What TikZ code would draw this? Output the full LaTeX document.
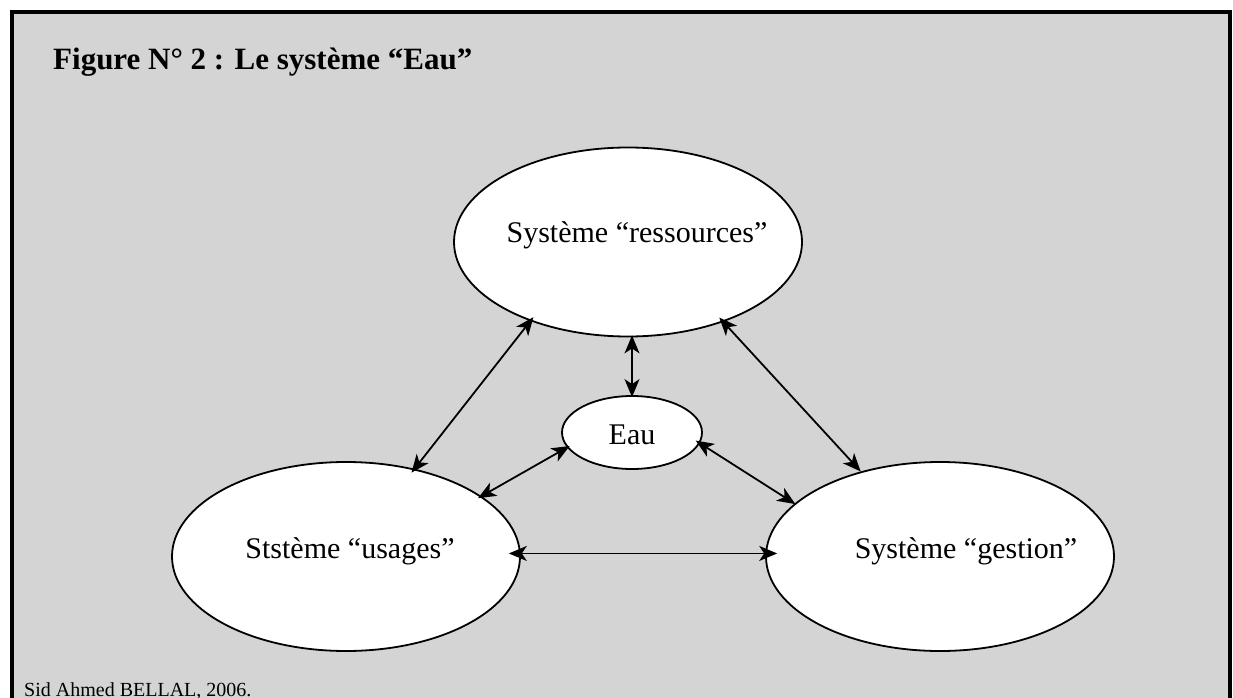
\documentclass[tikz,border=0pt]{standalone}
\usepackage{fontspec}
\setmainfont{Liberation Serif}
\usetikzlibrary{shapes.geometric,arrows.meta,calc}
\definecolor{panelgray}{RGB}{212,212,212}
\begin{document}
\begin{tikzpicture}[x=1pt,y=-1pt,
  sysnode/.style={ellipse, draw, line width=1.8pt, fill=white, inner sep=0pt,
    minimum width=348pt, minimum height=189pt},
  eaunode/.style={ellipse, draw, line width=1.8pt, fill=white, inner sep=0pt,
    minimum width=140pt, minimum height=73pt},
  lbl/.style={anchor=base, inner sep=0pt, font=\fontsize{30}{36}\selectfont},
  tip/.style={Stealth[length=18pt,width=15pt,inset=5pt]},
  link/.style={{Stealth[length=18pt,width=15pt,inset=5pt]}-{Stealth[length=18pt,width=15pt,inset=5pt]}, line width=1.8pt}]
  % page extent
  \useasboundingbox (0,0) rectangle (1233,698);
  \clip (0,0) rectangle (1233,698);
  % framed grey panel
  \draw[line width=4pt, fill=panelgray] (12,12.5) rectangle (1230,740);

  % title and credit
  \node[anchor=base west, inner sep=0pt, font=\bfseries\fontsize{31}{37}\selectfont]
    (title) at (53,70) {Figure N° 2 : Le système “Eau”};
  \node[anchor=base west, inner sep=0pt, font=\fontsize{20}{24}\selectfont]
    (credit) at (24,696) {Sid Ahmed BELLAL, 2006.};

  % the four sub-systems
  \node[sysnode] (res) at (628,242) {};
  \node[sysnode] (use) at (346,556.5) {};
  \node[sysnode] (ges) at (940,556.5) {};
  \node[eaunode] (eau) at (632,432.5) {};

  \node[lbl] (resT) at ($(res.center)+(9,0)$) {Système “ressources”};
  \node[lbl] (useT) at ($(use.center)+(4,1.5)$) {Ststème “usages”};
  \node[lbl] (gesT) at ($(ges.center)+(26,1.5)$) {Système “gestion”};
  \node[lbl] (eauT) at ($(eau.center)+(0,11.5)$) {Eau};

  % two-way links
  \draw[link, shorten <=-5pt, shorten >=-5pt] (res.219) -- (use.52);
  \draw[link, shorten <=-2pt, shorten >=-2pt] (eau.north) -- (eau.north |- res.south);
  \draw[link, shorten <=-6pt, shorten >=0pt] (res.320) -- (ges.133);
  \draw[link, shorten <=-3pt, shorten >=-4pt] (eau.193) -- (use.24);
  \draw[link, shorten <=-5pt, shorten >=-1pt] (eau.351) -- (ges.160);
  \draw[link, shorten <=-12pt, shorten >=-12pt] (use.1) -- (ges.179);
\end{tikzpicture}
\end{document}
